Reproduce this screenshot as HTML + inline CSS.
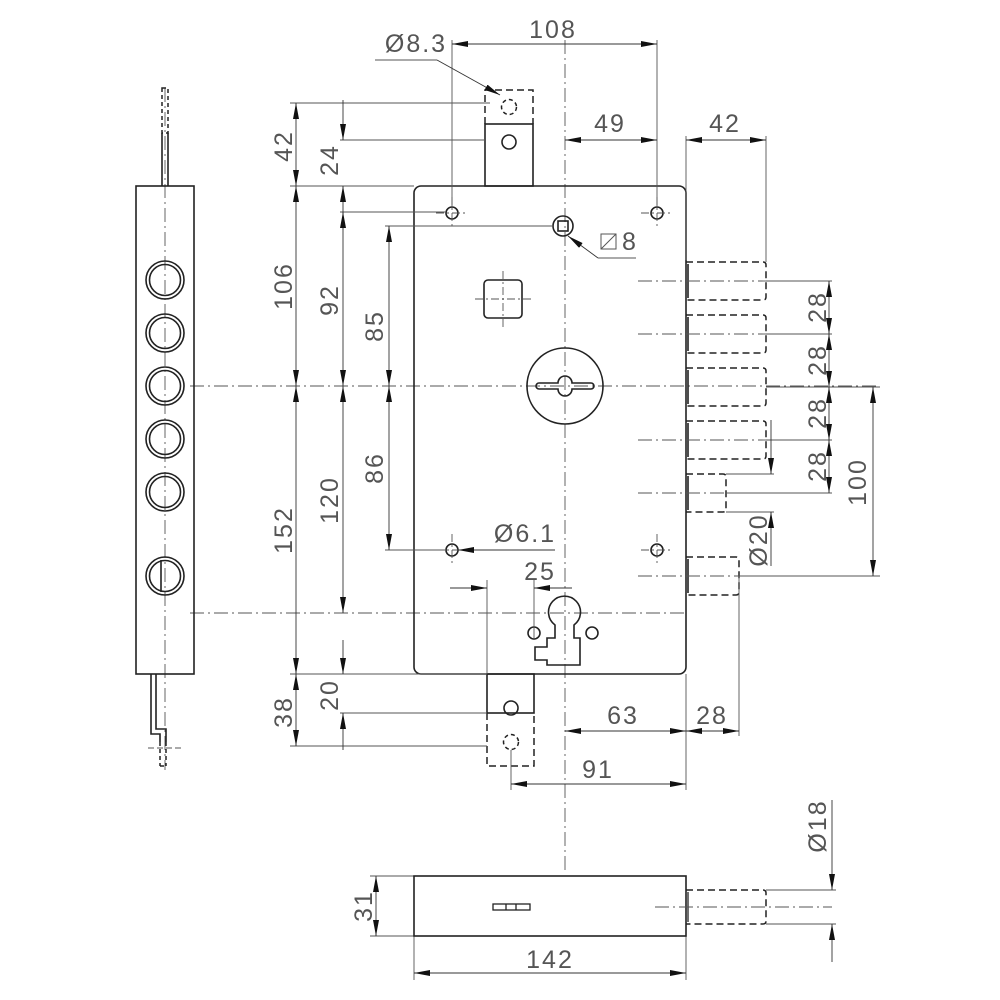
<!DOCTYPE html>
<html><head><meta charset="utf-8"><style>html,body{margin:0;padding:0;background:#fff}svg{display:block}</style></head><body>
<svg width="1000" height="1000" viewBox="0 0 1000 1000" xmlns="http://www.w3.org/2000/svg">
<defs>
<marker id="a" viewBox="0 0 16 6" refX="16" refY="3" markerWidth="16" markerHeight="6" markerUnits="userSpaceOnUse" orient="auto-start-reverse"><path d="M0,0 L16,3 L0,6 z" fill="#111"/></marker>
</defs>
<style>
.o{fill:none;stroke:#222;stroke-width:1.6}
.d{fill:none;stroke:#222;stroke-width:1.5;stroke-dasharray:7 4}
.c{fill:none;stroke:#555;stroke-width:0.9;stroke-dasharray:14 4 2 4}
.t{fill:none;stroke:#555;stroke-width:0.9}
.m{fill:none;stroke:#333;stroke-width:0.9;marker-start:url(#a);marker-end:url(#a)}
.e{fill:none;stroke:#333;stroke-width:0.9;marker-end:url(#a)}
text{font-family:"Liberation Sans",sans-serif;font-size:25px;fill:#555;text-anchor:middle;letter-spacing:2px}
</style>

<!-- centerlines -->
<line class="c" x1="565" y1="40" x2="565" y2="872"/>
<line class="c" x1="190" y1="386" x2="880" y2="386"/>
<line class="c" x1="190" y1="613" x2="686" y2="613"/>
<line class="c" x1="165" y1="88" x2="165" y2="770"/>

<!-- left side view -->
<rect class="o" x="136" y="186" width="58" height="488"/>
<g class="o">
<circle cx="165" cy="280" r="19"/><circle cx="165" cy="280" r="15.5"/>
<circle cx="165" cy="333" r="19"/><circle cx="165" cy="333" r="15.5"/>
<circle cx="165" cy="386" r="19"/><circle cx="165" cy="386" r="15.5"/>
<circle cx="165" cy="439" r="19"/><circle cx="165" cy="439" r="15.5"/>
<circle cx="165" cy="492" r="19"/><circle cx="165" cy="492" r="15.5"/>
<circle cx="165" cy="576" r="19"/><circle cx="165" cy="576" r="15.5"/>
<line x1="161" y1="560" x2="161" y2="592"/>
<line x1="162" y1="133" x2="162" y2="186"/><line x1="168" y1="133" x2="168" y2="186"/>
<polyline points="151,674 151,734 160,734 160,742"/>
<polyline points="156,674 156,729 166,729 166,742"/>
</g>
<g class="d" style="stroke-dasharray:4 3">
<rect x="162" y="88" width="6" height="45"/>
<line x1="160" y1="742" x2="160" y2="766"/><line x1="166" y1="742" x2="166" y2="766"/><line x1="160" y1="766" x2="166" y2="766"/>
</g>
<line class="c" x1="148" y1="748" x2="182" y2="748" style="stroke-dasharray:6 3"/>

<!-- main body -->
<rect class="o" x="414" y="186" width="272" height="488" rx="7"/>
<rect class="o" x="485" y="124" width="48" height="62"/>
<path class="d" d="M485,124 V90 H533 V124"/>
<circle class="o" cx="509" cy="142" r="7"/>
<circle class="d" cx="509" cy="107" r="7.5" style="stroke-dasharray:4 3"/>
<rect class="o" x="487" y="674" width="47" height="39"/>
<path class="d" d="M487,713 V766 H534 V713"/>
<circle class="o" cx="511" cy="708" r="7"/>
<circle class="d" cx="511" cy="742" r="7.5" style="stroke-dasharray:4 3"/>

<!-- holes -->
<g class="o">
<circle cx="452" cy="213" r="6"/><circle cx="657" cy="213" r="6"/>
<circle cx="452" cy="550" r="6"/><circle cx="657" cy="550" r="6"/>
<circle cx="563" cy="226" r="10"/><rect x="558" y="221" width="10" height="10"/>
<rect x="484" y="280" width="38" height="38" rx="4"/>
<circle cx="565" cy="386" r="38"/>
<path d="M539,383 H558 A7,7 0 0 1 572,383 H591 A3,3 0 0 1 591,389 H572 A7,7 0 0 1 558,389 H539 A3,3 0 0 1 539,383 Z"/>
<circle cx="534" cy="633" r="6"/><circle cx="592" cy="633" r="6"/>
<path d="M555,625 A16,16 0 1 1 574,625 V638 H580 V665 H547 V660 H535 V647 H547 V638 H555 Z"/>
</g>
<g class="c" style="stroke-dasharray:8 3 2 3">
<line x1="436" y1="213" x2="468" y2="213"/><line x1="452" y1="197" x2="452" y2="229"/>
<line x1="641" y1="213" x2="673" y2="213"/><line x1="657" y1="197" x2="657" y2="229"/>
<line x1="436" y1="550" x2="468" y2="550"/><line x1="452" y1="534" x2="452" y2="566"/>
<line x1="641" y1="550" x2="673" y2="550"/><line x1="657" y1="534" x2="657" y2="566"/>
<line x1="475" y1="299" x2="531" y2="299"/><line x1="503" y1="271" x2="503" y2="327"/>
</g>

<!-- bolts -->
<g class="d">
<path d="M686,262 H763 Q766,262 766,265 V297 Q766,300 763,300 H686"/>
<path d="M686,315 H763 Q766,315 766,318 V350 Q766,353 763,353 H686"/>
<path d="M686,368 H763 Q766,368 766,371 V403 Q766,406 763,406 H686"/>
<path d="M686,421 H763 Q766,421 766,424 V456 Q766,459 763,459 H686"/>
<path d="M686,474 H723 Q726,474 726,477 V509 Q726,512 723,512 H686"/>
<path d="M686,557 H736 Q739,557 739,560 V592 Q739,595 736,595 H686"/>
</g>
<g class="o">
<line x1="688" y1="264" x2="688" y2="298"/><line x1="688" y1="317" x2="688" y2="351"/>
<line x1="688" y1="370" x2="688" y2="404"/><line x1="688" y1="423" x2="688" y2="457"/>
<line x1="688" y1="476" x2="688" y2="510"/><line x1="688" y1="559" x2="688" y2="593"/>
</g>
<g class="c">
<line x1="638" y1="281" x2="766" y2="281"/><line x1="638" y1="334" x2="766" y2="334"/>
<line x1="638" y1="440" x2="766" y2="440"/><line x1="638" y1="493" x2="726" y2="493"/>
<line x1="638" y1="576" x2="739" y2="576"/>
</g>

<!-- extension lines -->
<g class="t">
<line x1="766" y1="281" x2="832" y2="281"/><line x1="766" y1="334" x2="832" y2="334"/>
<line x1="766" y1="387" x2="880" y2="387"/><line x1="766" y1="440" x2="832" y2="440"/>
<line x1="726" y1="493" x2="832" y2="493"/><line x1="739" y1="576" x2="880" y2="576"/>
<line x1="726" y1="474" x2="774" y2="474"/><line x1="726" y1="512" x2="774" y2="512"/>
<line x1="452" y1="40" x2="452" y2="207"/><line x1="657" y1="40" x2="657" y2="207"/>
<line x1="686" y1="136" x2="686" y2="260"/><line x1="766" y1="136" x2="766" y2="262"/>
<line x1="290" y1="103" x2="490" y2="103"/><line x1="340" y1="140" x2="485" y2="140"/>
<line x1="290" y1="186" x2="414" y2="186"/><line x1="340" y1="212" x2="446" y2="212"/>
<line x1="385" y1="226" x2="553" y2="226"/><line x1="385" y1="550" x2="446" y2="550"/>
<line x1="290" y1="674" x2="487" y2="674"/><line x1="340" y1="713" x2="487" y2="713"/>
<line x1="290" y1="746" x2="487" y2="746"/>
<line x1="487" y1="580" x2="487" y2="674"/><line x1="534" y1="580" x2="534" y2="640"/>
<line x1="739" y1="576" x2="739" y2="736"/><line x1="686" y1="674" x2="686" y2="790"/>
<line x1="511" y1="750" x2="511" y2="790"/>
<line x1="766" y1="890" x2="836" y2="890"/><line x1="766" y1="924" x2="836" y2="924"/>
<line x1="370" y1="876" x2="414" y2="876"/><line x1="370" y1="936" x2="414" y2="936"/>
<line x1="414" y1="936" x2="414" y2="980"/><line x1="686" y1="936" x2="686" y2="980"/>
<line x1="375" y1="60" x2="437" y2="60"/><line x1="598" y1="258" x2="636" y2="258"/>
</g>

<!-- dimension lines -->
<line class="m" x1="452" y1="44" x2="657" y2="44"/>
<line class="m" x1="565" y1="140" x2="657" y2="140"/>
<line class="m" x1="686" y1="140" x2="766" y2="140"/>
<line class="m" x1="829" y1="281" x2="829" y2="334"/>
<line class="m" x1="829" y1="334" x2="829" y2="387"/>
<line class="m" x1="829" y1="387" x2="829" y2="440"/>
<line class="m" x1="829" y1="440" x2="829" y2="493"/>
<line class="m" x1="873" y1="387" x2="873" y2="576"/>
<line class="e" x1="771" y1="420" x2="771" y2="474"/>
<line class="e" x1="771" y1="566" x2="771" y2="512"/>
<line class="m" x1="296" y1="103" x2="296" y2="186"/>
<line class="m" x1="296" y1="186" x2="296" y2="386"/>
<line class="m" x1="296" y1="386" x2="296" y2="674"/>
<line class="m" x1="296" y1="674" x2="296" y2="746"/>
<line class="e" x1="343" y1="100" x2="343" y2="140"/>
<line class="e" x1="343" y1="230" x2="343" y2="186"/>
<line class="m" x1="343" y1="212" x2="343" y2="386"/>
<line class="m" x1="343" y1="386" x2="343" y2="613"/>
<line class="e" x1="343" y1="640" x2="343" y2="674"/>
<line class="e" x1="343" y1="750" x2="343" y2="713"/>
<line class="m" x1="389" y1="226" x2="389" y2="386"/>
<line class="m" x1="389" y1="386" x2="389" y2="550"/>
<line class="e" x1="555" y1="550" x2="458" y2="550"/>
<line class="e" x1="450" y1="588" x2="487" y2="588"/>
<line class="e" x1="572" y1="588" x2="534" y2="588"/>
<line class="m" x1="565" y1="731" x2="686" y2="731"/>
<line class="m" x1="686" y1="731" x2="739" y2="731"/>
<line class="m" x1="511" y1="784" x2="686" y2="784"/>
<line class="e" x1="437" y1="60" x2="500" y2="95"/>
<line class="e" x1="598" y1="258" x2="568" y2="236"/>
<line class="e" x1="832" y1="800" x2="832" y2="890"/>
<line class="e" x1="832" y1="962" x2="832" y2="924"/>
<line class="m" x1="376" y1="876" x2="376" y2="936"/>
<line class="m" x1="414" y1="973" x2="686" y2="973"/>

<!-- bottom view -->
<rect class="o" x="414" y="876" width="272" height="60"/>
<g class="o" style="stroke-width:1.3">
<rect x="493" y="904" width="37" height="6"/><line x1="506" y1="904" x2="506" y2="910"/><line x1="516" y1="904" x2="516" y2="910"/>
<line x1="688" y1="892" x2="688" y2="922"/>
</g>
<path class="d" d="M686,890 H763 Q766,890 766,893 V921 Q766,924 763,924 H686"/>
<line class="c" x1="655" y1="907" x2="832" y2="907"/>

<!-- texts -->
<text x="553" y="38">108</text>
<text x="610" y="132">49</text>
<text x="725" y="132">42</text>
<text x="416" y="52">Ø8.3</text>
<g fill="none" stroke="#555" stroke-width="1"><rect x="601" y="234" width="15" height="15"/><line x1="601" y1="249" x2="616" y2="234"/></g>
<text x="630" y="250">8</text>
<text x="525" y="542">Ø6.1</text>
<text x="540" y="580">25</text>
<text x="623" y="724">63</text>
<text x="712" y="724">28</text>
<text x="598" y="778">91</text>
<text x="550" y="968">142</text>
<g transform="rotate(-90)">
<text x="-146" y="292">42</text>
<text x="-286" y="292">106</text>
<text x="-530" y="292">152</text>
<text x="-712" y="292">38</text>
<text x="-160" y="338">24</text>
<text x="-300" y="338">92</text>
<text x="-500" y="338">120</text>
<text x="-695" y="338">20</text>
<text x="-326" y="383">85</text>
<text x="-468" y="383">86</text>
<text x="-307" y="826">28</text>
<text x="-360" y="826">28</text>
<text x="-413" y="826">28</text>
<text x="-466" y="826">28</text>
<text x="-482" y="866">100</text>
<text x="-540" y="767">Ø20</text>
<text x="-826" y="826">Ø18</text>
<text x="-906" y="372">31</text>
</g>
</svg>
</body></html>
